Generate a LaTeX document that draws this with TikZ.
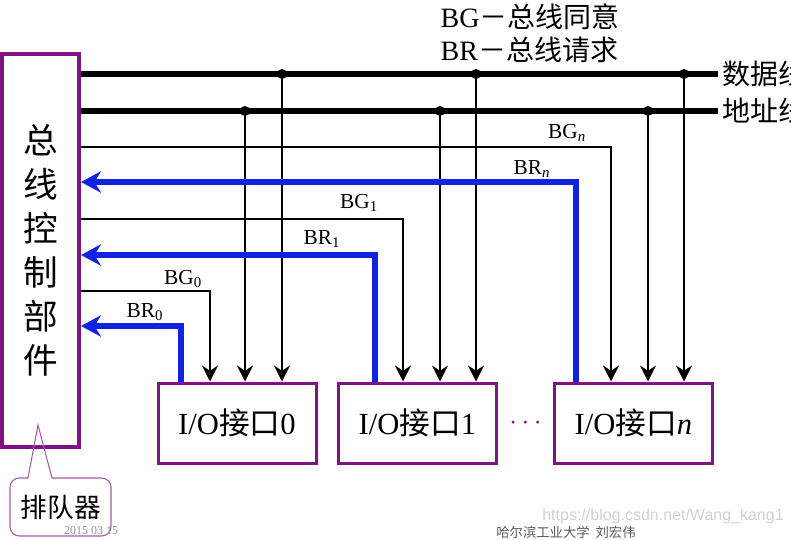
\documentclass[tikz,border=0pt]{standalone}
\usepackage{fontspec}
\setmainfont{Liberation Serif}
\newfontfamily\cjk{Noto Sans CJK SC}
\newfontfamily\wmfont{Liberation Sans}
\usetikzlibrary{arrows.meta,calc}

\definecolor{boxpurple}{RGB}{125,20,130}
\definecolor{reqblue}{RGB}{15,35,225}
\definecolor{footgray}{RGB}{150,150,150}
\newcommand{\zh}[1]{{\cjk #1}}

\tikzset{
  unit/.style={draw=boxpurple, line width=2.25pt, minimum width=118.5pt,
    minimum height=60pt, inner sep=0pt, font=\fontsize{23}{26}\selectfont},
  bus/.style={line width=5pt},
  feed/.style={line width=1.8pt, -{Stealth[length=12pt,width=12pt,inset=4pt]}},
  req/.style={draw=reqblue, line width=4.5pt,
    -{Stealth[length=15pt,width=16pt,inset=5pt]}},
  sig/.style={font=\fontsize{16}{18}\selectfont},
  legend/.style={anchor=west, font=\fontsize{21}{24}\selectfont},
}

\begin{document}
\begin{tikzpicture}[x=0.75pt, y=-0.75pt]
  \useasboundingbox (0,0) rectangle (791,539);
  \clip (0,0) rectangle (791,539);

  % control unit and interfaces
  \node[draw=boxpurple, line width=3pt, minimum width=57.75pt,
    minimum height=294.75pt, inner sep=0pt, align=center,
    font=\cjk\fontsize{26}{33}\selectfont] (ctrl) at (40.5,250.5)
    {总\\线\\控\\制\\部\\件};
  \node[unit] (io0) at (237,423)   {I/O\zh{接口}0};
  \node[unit] (io1) at (417.5,423) {I/O\zh{接口}1};
  \node[unit] (ion) at (633.5,423) {I/O\zh{接口}\textit{n}};
  \node[boxpurple, font=\fontsize{20}{24}\selectfont] (dots)
    at ($(io1.east)!0.5!(ion.west)$) {$\cdots$};

  % data and address bus
  \coordinate (dend) at (718,74);
  \coordinate (aend) at (718,111);
  \draw[bus] (ctrl.east |- dend) -- (dend);
  \draw[bus] (ctrl.east |- aend) -- (aend);
  \node[legend] at (dend) {\zh{数据线}};
  \node[legend] at (aend) {\zh{地址线}};

  % bus taps
  \foreach \u/\a/\d in {io0/245/282, io1/440/476, ion/648/684} {
    \coordinate (a-\u) at (\a,111);
    \coordinate (d-\u) at (\d,74);
    \fill (a-\u) circle (5);
    \fill (d-\u) circle (5);
    \draw[feed] (a-\u) -- (a-\u |- \u.north);
    \draw[feed] (d-\u) -- (d-\u |- \u.north);
  }

  % grant lines
  \foreach \u/\g/\gy in {io0/210/291, io1/403/219, ion/611/147} {
    \coordinate (g-\u) at (\g,\gy);
    \draw[feed] (ctrl.east |- g-\u) -- (g-\u) -- (g-\u |- \u.north);
  }

  % request lines
  \foreach \u/\r/\ry in {io0/181/326, io1/375/255, ion/576/182} {
    \coordinate (r-\u) at (\r,\ry);
    \draw[req] (r-\u |- \u.north) -- (r-\u) -- (ctrl.east |- r-\u);
  }

  \node[sig] at (183,279) {BG\textsubscript{0}};
  \node[sig] at (145,312) {BR\textsubscript{0}};
  \node[sig] at (359,203) {BG\textsubscript{1}};
  \node[sig] at (322,239) {BR\textsubscript{1}};
  \node[sig] at (567,133) {BG\textsubscript{\textit{n}}};
  \node[sig] at (532,169) {BR\textsubscript{\textit{n}}};

  % legend
  \node[legend] (lgg) at (436,17) {BG\zh{－总线同意}};
  \node[legend] (lgr) at (436,50) {BR\zh{－总线请求}};

  % callout
  \node[font=\cjk\fontsize{20}{24}\selectfont] (queue) at (61,507) {排队器};
  \draw[boxpurple!70, line width=0.8pt] (38,425) -- (52,478)
    [rounded corners=7] -- (111,478) -- (111,536) -- (10,536) -- (10,478)
    [sharp corners] -- (28,478) -- cycle;

  % footer
  \node[footgray, font=\fontsize{9}{10}\selectfont] at (91,531) {2015 03 15};
  \node[black!65, font=\cjk\fontsize{10}{12}\selectfont] at (566,532)
    {哈尔滨工业大学\ \ 刘宏伟};
  \node[black!18, font=\wmfont\fontsize{12}{14}\selectfont] at (663,516)
    {https://blog.csdn.net/Wang\_kang1};
\end{tikzpicture}
\end{document}
